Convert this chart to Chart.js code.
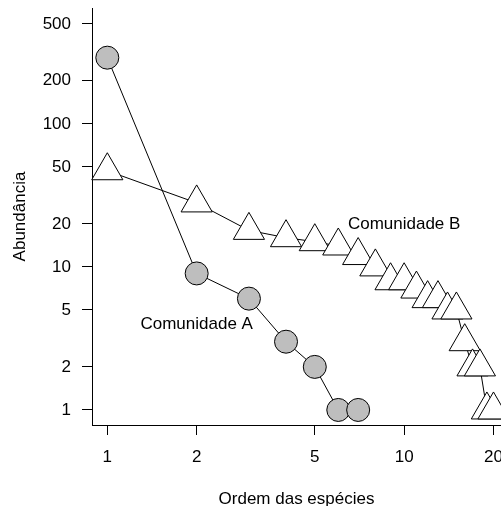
<!DOCTYPE html>
<html>
<head>
<meta charset="utf-8">
<script src="https://cdn.jsdelivr.net/npm/chart.js@4"></script>
<style>
html,body{margin:0;padding:0;background:#fff;}
canvas{display:block;}
</style>
</head>
<body>
<canvas id="c" width="501" height="506"></canvas>
<script>
// Data
const ranksA = [1, 2, 3, 4, 5, 6, 7];
const abundA = [290, 9, 6, 3, 2, 1, 1];
const ranksB = [1, 2, 3, 4, 5, 6, 7, 8, 9, 10, 11, 12, 13, 14, 15, 16, 17, 18, 19, 20];
const abundB = [47, 28, 18, 16, 15, 14, 12, 10, 8, 8, 7, 6, 6, 5, 5, 3, 2, 2, 1, 1];
const xTicks = [1, 2, 5, 10, 20];
const yTicks = [1, 2, 5, 10, 20, 50, 100, 200, 500];
const labelText = ['Comunidade A', 'Comunidade B'];
const labelX = [2, 10];
const labelY = [4, 20];

const FONT = '"Liberation Sans", Arial, Helvetica, sans-serif';
Chart.defaults.font.family = FONT;
Chart.defaults.font.size = 17;
Chart.defaults.color = '#000';

const textPlugin = {
  id: 'textLabels',
  afterDatasetsDraw(chart) {
    const ctx = chart.ctx;
    const xs = chart.scales.x, ys = chart.scales.y;
    ctx.save();
    ctx.font = '17px ' + FONT;
    ctx.fillStyle = '#000';
    ctx.textAlign = 'center';
    ctx.textBaseline = 'middle';
    labelText.forEach((t, i) => {
      ctx.fillText(t, xs.getPixelForValue(labelX[i]), ys.getPixelForValue(labelY[i]));
    });
    ctx.restore();
  }
};

new Chart(document.getElementById('c'), {
  type: 'scatter',
  data: {
    datasets: [
      {
        data: ranksA.map((r, i) => ({x: r, y: abundA[i]})),
        showLine: true,
        borderColor: '#000',
        borderWidth: 1,
        pointStyle: 'circle',
        pointRadius: 11.5,
        pointHoverRadius: 11.5,
        pointBackgroundColor: '#bebebe',
        pointBorderColor: '#000',
        pointBorderWidth: 1,
        clip: false
      },
      {
        data: ranksB.map((r, i) => ({x: r, y: abundB[i]})),
        showLine: true,
        borderColor: '#000',
        borderWidth: 1,
        pointStyle: 'triangle',
        pointRadius: 18,
        pointHoverRadius: 18,
        pointBackgroundColor: '#fff',
        pointBorderColor: '#000',
        pointBorderWidth: 1,
        clip: false
      }
    ]
  },
  options: {
    responsive: false,
    animation: false,
    events: [],
    layout: {autoPadding: false, padding: {top: 8, left: 0, right: 0, bottom: 0}},
    plugins: {legend: {display: false}, tooltip: {enabled: false}},
    scales: {
      x: {
        type: 'logarithmic',
        min: 0.888,
        max: 21.2,
        afterBuildTicks: s => { s.ticks = xTicks.map(v => ({value: v})); },
        afterFit: s => { s.height = 81; s.paddingLeft = 0; s.paddingRight = 0; s.paddingTop = 0; s.paddingBottom = 0; },
        ticks: {callback: v => String(v), padding: 12, maxRotation: 0, autoSkip: false, font: {size: 17}},
        grid: {drawOnChartArea: false, drawTicks: true, tickLength: 10, color: '#000', lineWidth: 1},
        border: {display: true, color: '#000', width: 1},
        title: {display: true, text: 'Ordem das espécies', font: {size: 17}, padding: {top: 0, bottom: -3.5}}
      },
      y: {
        type: 'logarithmic',
        min: 0.785,
        max: 645,
        afterBuildTicks: s => { s.ticks = yTicks.map(v => ({value: v})); },
        afterFit: s => { s.width = 92; s.paddingLeft = 0; s.paddingRight = 0; s.paddingTop = 0; s.paddingBottom = 0; },
        ticks: {callback: v => String(v), padding: 11, autoSkip: false, font: {size: 17}},
        grid: {drawOnChartArea: false, drawTicks: true, tickLength: 10, color: '#000', lineWidth: 1},
        border: {display: true, color: '#000', width: 1},
        title: {display: true, text: 'Abundância', font: {size: 17}, padding: {top: 10, bottom: 0}}
      }
    }
  },
  plugins: [textPlugin]
});
</script>
</body>
</html>
